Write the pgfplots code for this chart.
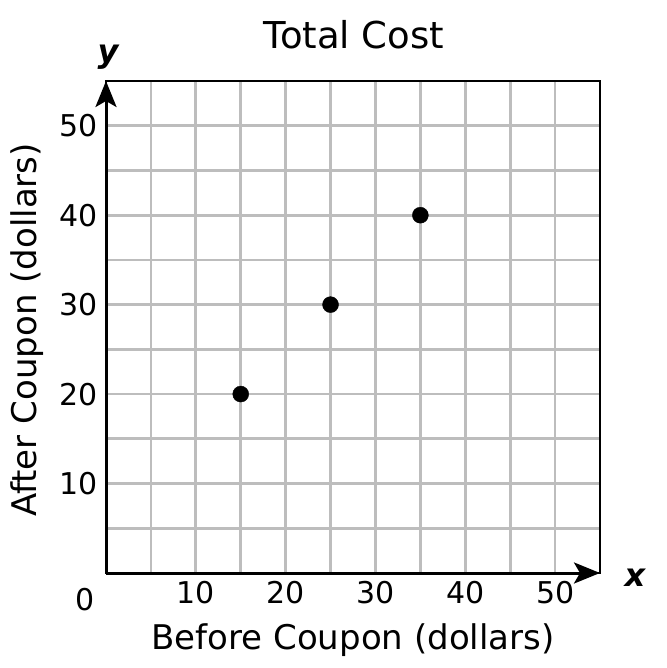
\documentclass[border=0pt]{standalone}
\usepackage{fontspec}
\setmainfont{DejaVu Sans}
\usepackage{pgfplots}
\pgfplotsset{compat=1.18}
\usetikzlibrary{arrows.meta}
\definecolor{gridgray}{RGB}{189,189,189}
\begin{document}
\begin{tikzpicture}
\useasboundingbox (-106pt,-95pt) rectangle (560pt,573pt);
\begin{axis}[
  at={(0pt,0pt)}, anchor=south west,
  scale only axis, width=494pt, height=492pt,
  xmin=0, xmax=55, ymin=0, ymax=55,
  xtick={10,20,...,50}, ytick={10,20,...,50},
  minor xtick={5,15,...,55}, minor ytick={5,15,...,55},
  grid=both,
  major grid style={gridgray, line width=2.8pt},
  minor grid style={gridgray, line width=2.8pt},
  major tick length=0pt, minor tick length=0pt,
  axis line style={black, line width=2.6pt},
  /pgf/number format/assume math mode=true,
  tick label style={font=\fontsize{30}{32}\selectfont},
  xticklabel style={yshift=-5pt},
  yticklabel style={xshift=-5pt},
  xlabel={Before Coupon (dollars)},
  label style={font=\fontsize{34}{37}\selectfont},
  xlabel style={at={(axis description cs:0.5,0)}, anchor=center, yshift=-67pt},
  clip=false,
]
\addplot[only marks, mark=*, mark size=8pt, black] coordinates {(15,20) (25,30) (35,40)};
\draw[black, line width=3pt, -{Stealth[length=26pt, width=21pt, inset=6pt]}] (axis cs:0,0) -- (axis cs:0,55);
\draw[black, line width=3pt, -{Stealth[length=26pt, width=21pt, inset=6pt]}] (axis cs:0,0) -- (axis cs:55,0);
\end{axis}
\node[font=\fontsize{34}{37}\selectfont, rotate=90] at (-79pt,243pt) {After Coupon (dollars)};
\node[font=\fontsize{37}{40}\selectfont] at (248pt,538pt) {Total Cost};
\node[font=\fontsize{30}{32}\selectfont] at (-21pt,-27pt) {0};
\node[font=\fontsize{32}{34}\selectfont\bfseries\itshape] at (529pt,-5pt) {x};
\node[font=\fontsize{32}{34}\selectfont\bfseries\itshape] at (2pt,516pt) {y};
\end{tikzpicture}
\end{document}
